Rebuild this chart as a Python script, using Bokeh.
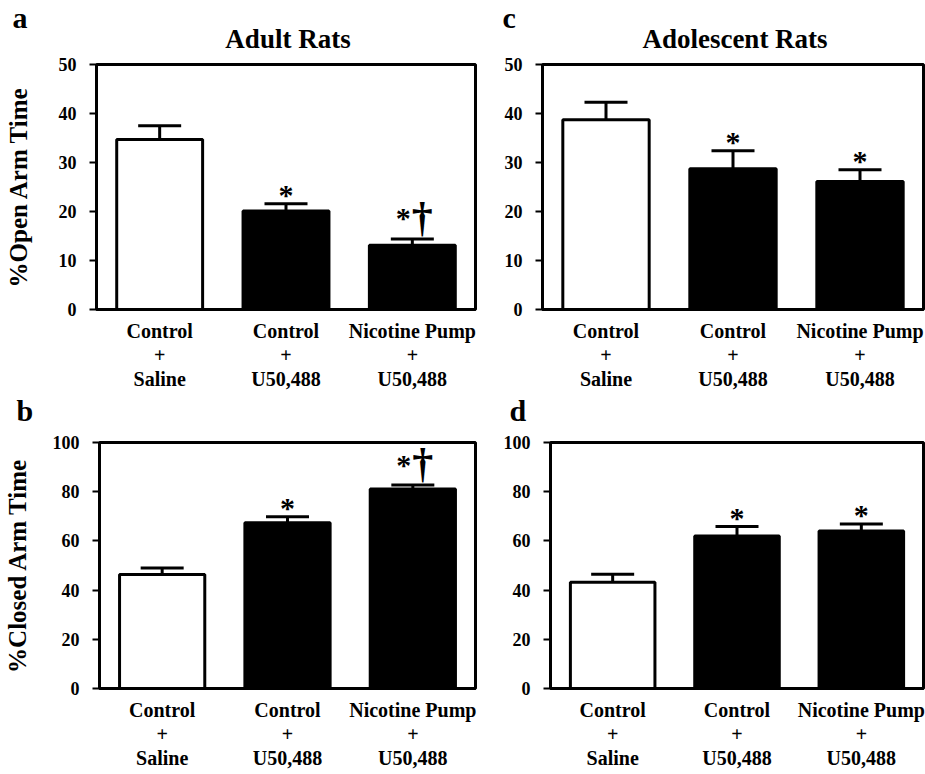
from bokeh.plotting import figure
from bokeh.models import (Range1d, FactorRange, ColumnDataSource, Whisker, TeeHead,
                          Label, SingleIntervalTicker)
from bokeh.layouts import column, row
from bokeh.embed import file_html
from bokeh.resources import INLINE
from bokeh.core.properties import value

FONT = "Liberation Serif"

categories = ["Control\n+\nSaline", "Control\n+\nU50,488", "Nicotine Pump\n+\nU50,488"]
bar_colors = ["white", "black", "black"]

adult_open = [34.7, 20.1, 13.1]
adult_open_sem = [2.8, 1.5, 1.3]
adult_open_star = ["", "*", "*"]
adult_open_dagger = ["", "", "\u2020"]

adol_open = [38.7, 28.7, 26.1]
adol_open_sem = [3.6, 3.7, 2.4]
adol_open_star = ["", "*", "*"]
adol_open_dagger = ["", "", ""]

adult_closed = [46.3, 67.4, 81.1]
adult_closed_sem = [2.7, 2.4, 1.6]
adult_closed_star = ["", "*", "*"]
adult_closed_dagger = ["", "", "\u2020"]

adol_closed = [43.2, 62.0, 64.0]
adol_closed_sem = [3.2, 3.9, 2.9]
adol_closed_star = ["", "*", "*"]
adol_closed_dagger = ["", "", ""]


def make_panel(letter, title, ylabel, vals, sems, stars, daggers, ymax, step,
               width, height, borders, letter_xy, ylabel_standoff):
    bl, br, bt, bb = borders
    p = figure(x_range=FactorRange(*categories), y_range=Range1d(0, ymax),
               width=width, height=height, output_backend="svg",
               toolbar_location=None, title=None,
               min_border_left=bl, min_border_right=br,
               min_border_top=bt, min_border_bottom=bb)
    p.xgrid.visible = False
    p.ygrid.visible = False
    p.outline_line_color = "black"
    p.outline_line_width = 3
    p.outline_line_alpha = 1.0
    p.background_fill_color = "white"
    p.border_fill_color = "white"

    ax = p.xaxis[0]
    ax.axis_line_width = 3
    ax.major_tick_line_color = None
    ax.major_tick_out = 0
    ax.major_tick_in = 0
    ax.minor_tick_line_color = None
    ax.major_label_text_font = FONT
    ax.major_label_text_font_style = "bold"
    ax.major_label_text_font_size = "20px"
    ax.major_label_text_color = "black"
    ax.major_label_text_line_height = 1.11
    ax.major_label_standoff = 10

    ay = p.yaxis[0]
    ay.ticker = SingleIntervalTicker(interval=step, num_minor_ticks=0)
    ay.axis_line_width = 3
    ay.major_tick_line_width = 2
    ay.major_tick_out = 7
    ay.major_tick_in = 0
    ay.minor_tick_line_color = None
    ay.major_label_text_font = FONT
    ay.major_label_text_font_style = "bold"
    ay.major_label_text_font_size = "18px"
    ay.major_label_text_color = "black"
    ay.major_label_standoff = 13
    if ylabel:
        ay.axis_label = ylabel
        ay.axis_label_text_font = FONT
        ay.axis_label_text_font_style = "bold"
        ay.axis_label_text_font_size = "25px"
        ay.axis_label_text_color = "black"
        ay.axis_label_standoff = ylabel_standoff

    tops = [v + s for v, s in zip(vals, sems)]
    src = ColumnDataSource(dict(x=categories, top=vals, upper=tops, color=bar_colors))
    p.vbar(x="x", top="top", width=0.68, fill_color="color", line_color="black",
           line_width=3, source=src)
    w = Whisker(source=src, base="x", upper="upper", lower="top",
                line_width=3, line_color="black",
                upper_head=TeeHead(size=43, line_width=3, line_color="black"),
                lower_head=None)
    p.add_layout(w)

    has_d = [d != "" for d in daggers]
    star_src = ColumnDataSource(dict(
        x=categories, y=tops, text=stars,
        xo=[-9 if h else 0 for h in has_d],
        yo=[-21 if h else -9 for h in has_d]))
    p.text(x="x", y="y", text="text", x_offset="xo", y_offset="yo", source=star_src,
           text_font=value(FONT), text_font_style="bold", text_font_size="30px",
           text_align="center", text_baseline="alphabetic", text_color="black")
    dag_src = ColumnDataSource(dict(x=categories, y=tops, text=daggers))
    p.text(x="x", y="y", text="text", x_offset=10, y_offset=-22, source=dag_src,
           text_font=value(FONT), text_font_style="bold", text_font_size="42px",
           text_align="center", text_baseline="alphabetic", text_color="black")

    fw = width - bl - br
    if title is not None:
        p.add_layout(Label(x=fw / 2 + 2, y=26, x_units="screen", y_units="screen",
                           text=title, text_font=FONT, text_font_style="bold",
                           text_font_size="27px", text_color="black",
                           text_align="center", text_baseline="alphabetic"), "above")
    lx, ly = letter_xy
    p.add_layout(Label(x=lx, y=ly, x_units="screen", y_units="screen", text=letter,
                       text_font=FONT, text_font_style="bold", text_font_size="30px",
                       text_color="black", text_align="left",
                       text_baseline="alphabetic"), "above")
    return p


pa = make_panel("a", "Adult Rats", "%Open Arm Time", adult_open, adult_open_sem,
                adult_open_star, adult_open_dagger, 50, 10,
                500, 393, (96, 25, 64, 82), (-84, 17), 24)
pc = make_panel("c", "Adolescent Rats", None, adol_open, adol_open_sem,
                adol_open_star, adol_open_dagger, 50, 10,
                425, 393, (42, 2, 64, 82), (-40, 17), 10)
pb = make_panel("b", None, "%Closed Arm Time", adult_closed, adult_closed_sem,
                adult_closed_star, adult_closed_dagger, 100, 20,
                500, 381, (96, 25, 49, 86), (-83, 32), 19)
pd = make_panel("d", None, None, adol_closed, adol_closed_sem,
                adol_closed_star, adol_closed_dagger, 100, 20,
                425, 381, (42, 2, 49, 86), (-41, 32), 10)

layout = column(row(pa, pc), row(pb, pd))
open("out.html", "w").write(file_html(layout, INLINE))
